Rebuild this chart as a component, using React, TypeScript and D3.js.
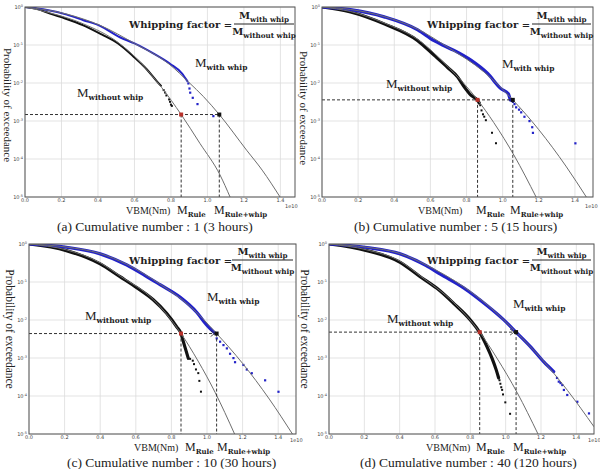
import React from 'react';
import * as d3 from 'd3';

type Pt = [number, number];

const xTicks = [0, 0.2, 0.4, 0.6, 0.8, 1.0, 1.2, 1.4];
const xTickLabels = ['0.0', '0.2', '0.4', '0.6', '0.8', '1.0', '1.2', '1.4'];
const yTickExponents = [0, -1, -2, -3, -4, -5];
const captions = [
  '(a) Cumulative number : 1 (3 hours)',
  '(b) Cumulative number : 5 (15 hours)',
  '(c) Cumulative number : 10 (30 hours)',
  '(d) Cumulative number : 40 (120 hours)',
];

// ---- Panel (a) : VBM in 1e10 Nm, probability of exceedance
const blackA: Pt[] = [[0, 1], [0.07, 0.88], [0.137, 0.67], [0.22, 0.5], [0.32, 0.33], [0.42, 0.19], [0.512, 0.108], [0.594, 0.05], [0.667, 0.023], [0.722, 0.0112], [0.745, 0.0085]];
const blackTailA: Pt[] = [[0.76, 0.0065], [0.768, 0.0056], [0.775, 0.0047], [0.79, 0.0037], [0.795, 0.0032], [0.8, 0.0027], [0.805, 0.0025]];
const blueA: Pt[] = [[0, 1], [0.1, 0.87], [0.229, 0.63], [0.32, 0.45], [0.411, 0.32], [0.52, 0.16], [0.6, 0.11], [0.703, 0.06], [0.795, 0.032], [0.86, 0.018], [0.89, 0.0112]];
const blueTailA: Pt[] = [[0.895, 0.0098], [0.901, 0.0072], [0.905, 0.0056], [0.919, 0.0041], [0.945, 0.0028], [1.032, 0.00135]];
const fitWithoutA: Pt[] = [[0, 1], [0.137, 0.7], [0.32, 0.36], [0.512, 0.115], [0.6, 0.05], [0.75, 0.0075], [0.856, 0.00148], [0.959, 0.000257], [1.069, 0.000038], [1.124, 0.00001]];
const fitWithA: Pt[] = [[0, 1], [0.229, 0.65], [0.411, 0.33], [0.6, 0.11], [0.795, 0.03], [0.9, 0.0102], [0.978, 0.0044], [1.065, 0.00148], [1.215, 0.00017], [1.3, 0.000051], [1.398, 0.00001]];
const markA = { mRule: 0.856, mRuleWhip: 1.065, p: 0.00148 };

// ---- Panel (b)
const blackB: Pt[] = [[0, 1], [0.158, 0.74], [0.344, 0.36], [0.53, 0.13], [0.62, 0.054], [0.694, 0.026], [0.75, 0.0145], [0.787, 0.0079], [0.824, 0.0048], [0.861, 0.0035], [0.87, 0.003]];
const blackTailB: Pt[] = [[0.876, 0.0026], [0.883, 0.0019], [0.891, 0.0015], [0.898, 0.0013], [0.907, 0.00105], [0.941, 0.00049], [0.963, 0.00026]];
const blueB: Pt[] = [[0, 1], [0.158, 0.85], [0.344, 0.55], [0.53, 0.25], [0.62, 0.13], [0.667, 0.1], [0.731, 0.072], [0.824, 0.04], [0.917, 0.0178], [0.99, 0.0071], [1.031, 0.0052], [1.042, 0.0036]];
const blueTailB: Pt[] = [[1.05, 0.0034], [1.056, 0.0032], [1.065, 0.0028], [1.074, 0.0023], [1.09, 0.002], [1.102, 0.0017], [1.12, 0.0013], [1.148, 0.001], [1.163, 0.00069], [1.167, 0.00049], [1.402, 0.00026]];
const fitWithoutB: Pt[] = [[0, 1], [0.158, 0.76], [0.344, 0.38], [0.53, 0.14], [0.7, 0.026], [0.861, 0.0036], [0.95, 0.00092], [1.065, 0.00012], [1.185, 0.00001]];
const fitWithB: Pt[] = [[0, 1], [0.158, 0.86], [0.344, 0.56], [0.53, 0.26], [0.7, 0.085], [0.9, 0.019], [1.056, 0.0036], [1.2, 0.00059], [1.35, 0.000065], [1.463, 0.00001]];
const markB = { mRule: 0.861, mRuleWhip: 1.056, p: 0.0036 };

// ---- Panel (c)
const blackC: Pt[] = [[0, 1], [0.21, 0.67], [0.4, 0.3], [0.511, 0.138], [0.605, 0.071], [0.698, 0.034], [0.773, 0.015], [0.83, 0.0066], [0.854, 0.0044], [0.867, 0.0027], [0.895, 0.00098]];
const blackTailC: Pt[] = [[0.905, 0.00095], [0.92, 0.00085], [0.927, 0.00069], [0.938, 0.0005], [0.951, 0.0004], [0.957, 0.00025], [0.966, 0.00013]];
const blueC: Pt[] = [[0, 1], [0.21, 0.82], [0.4, 0.55], [0.55, 0.28], [0.65, 0.15], [0.736, 0.085], [0.848, 0.04], [0.942, 0.016], [0.998, 0.0074], [1.045, 0.0045]];
const blueTailC: Pt[] = [[1.054, 0.0033], [1.073, 0.0027], [1.092, 0.0022], [1.111, 0.0018], [1.129, 0.0013], [1.148, 0.001], [1.157, 0.00078], [1.204, 0.00066], [1.223, 0.0005], [1.251, 0.0004], [1.326, 0.00026], [1.401, 0.00013]];
const fitWithoutC: Pt[] = [[0, 1], [0.21, 0.7], [0.4, 0.32], [0.511, 0.145], [0.7, 0.034], [0.854, 0.0044], [0.95, 0.00083], [1.045, 0.000126], [1.155, 0.00001]];
const fitWithC: Pt[] = [[0, 1], [0.21, 0.83], [0.4, 0.56], [0.55, 0.29], [0.736, 0.088], [0.9, 0.024], [1.054, 0.0044], [1.2, 0.00072], [1.35, 0.000083], [1.48, 0.00001]];
const markC = { mRule: 0.854, mRuleWhip: 1.054, p: 0.0044 };

// ---- Panel (d)
const blackD: Pt[] = [[0, 1], [0.214, 0.67], [0.403, 0.33], [0.516, 0.138], [0.611, 0.068], [0.705, 0.0275], [0.8, 0.01], [0.853, 0.0047], [0.894, 0.002], [0.923, 0.00098], [0.947, 0.00048], [0.96, 0.0003]];
const blackTailD: Pt[] = [[0.965, 0.00026], [0.97, 0.00021], [0.975, 0.00017], [0.98, 0.000145], [0.985, 0.00011], [0.998, 0.000068], [1.025, 0.000034]];
const blueD: Pt[] = [[0, 1], [0.214, 0.81], [0.403, 0.55], [0.55, 0.27], [0.63, 0.16], [0.762, 0.07], [0.894, 0.024], [0.98, 0.011], [1.059, 0.0048], [1.14, 0.002], [1.216, 0.00079], [1.272, 0.00044]];
const blueTailD: Pt[] = [[1.29, 0.0003], [1.3, 0.00024], [1.31, 0.00022], [1.32, 0.000195], [1.329, 0.000145], [1.348, 0.000107], [1.405, 0.000071], [1.471, 0.000035]];
const fitWithoutD: Pt[] = [[0, 1], [0.214, 0.7], [0.403, 0.35], [0.516, 0.145], [0.705, 0.029], [0.853, 0.0048], [0.95, 0.001], [1.065, 0.000123], [1.183, 0.00001]];
const fitWithD: Pt[] = [[0, 1], [0.214, 0.82], [0.403, 0.56], [0.55, 0.28], [0.762, 0.075], [0.9, 0.024], [1.059, 0.0048], [1.2, 0.00098], [1.35, 0.00014], [1.5, 0.0000155]];
const markD = { mRule: 0.853, mRuleWhip: 1.059, p: 0.0048 };

const layouts = [
  { left: 25, right: 295, top: 7, bottom: 197, xMax: 1.48, wf: [129, 28], bar: [234, 294, 24], withL: [195, 67], withoutL: [77, 97], bottomY: 214, vbm: 126, mr: 177, mrw: 214, e10: [285, 208], cap: [57, 231], yl: [8, 105], ylSize: 11, arrow: false, thin: true },
  { left: 322, right: 593, top: 7, bottom: 197, xMax: 1.5, wf: [427, 28], bar: [532, 591, 24], withL: [502, 68], withoutL: [386, 88], bottomY: 214, vbm: 418, mr: 476, mrw: 510, e10: [585, 208], cap: [354, 231], yl: [304, 108], ylSize: 11, arrow: false, thin: false },
  { left: 29, right: 296, top: 244, bottom: 434, xMax: 1.5, wf: [129, 264], bar: [232, 293, 260], withL: [207, 301], withoutL: [85, 320], bottomY: 450.5, vbm: 134, mr: 185, mrw: 217, e10: [290, 442], cap: [67, 467], yl: [10, 329], ylSize: 11.5, arrow: true, thin: false },
  { left: 329, right: 594, top: 244, bottom: 434, xMax: 1.5, wf: [427, 264], bar: [532, 591, 260], withL: [513, 308], withoutL: [387, 323], bottomY: 450.5, vbm: 426, mr: 476, mrw: 513, e10: [588, 442], cap: [360, 467], yl: [305, 329], ylSize: 11.5, arrow: true, thin: false },
];

const panelData = [
  { black: blackA, blackTail: blackTailA, blue: blueA, blueTail: blueTailA, fitWithout: fitWithoutA, fitWith: fitWithA, mark: markA },
  { black: blackB, blackTail: blackTailB, blue: blueB, blueTail: blueTailB, fitWithout: fitWithoutB, fitWith: fitWithB, mark: markB },
  { black: blackC, blackTail: blackTailC, blue: blueC, blueTail: blueTailC, fitWithout: fitWithoutC, fitWith: fitWithC, mark: markC },
  { black: blackD, blackTail: blackTailD, blue: blueD, blueTail: blueTailD, fitWithout: fitWithoutD, fitWith: fitWithD, mark: markD },
];

const SERIF = '"Liberation Serif", "Times New Roman", serif';
const BSERIF = '"DejaVu Serif", "Liberation Serif", serif';
const SANS = '"DejaVu Sans", sans-serif';
const BLUE = '#2323c8';

function MSub({ x, y, sub, size = 13, subSize = 7.5 }: any) {
  return (
    <text x={x} y={y} fontFamily={SERIF} fontSize={size} fill="#222">
      <tspan>M</tspan>
      <tspan dy={3} fontSize={subSize} fontFamily={BSERIF} fontWeight="bold">{sub}</tspan>
    </text>
  );
}

function Panel({ i }: { i: number }) {
  const L = layouts[i];
  const D = panelData[i];
  const x = d3.scaleLinear().domain([0, L.xMax]).range([L.left, L.right]);
  const y = d3.scaleLog().domain([1e-5, 1]).range([L.bottom, L.top]);
  const line = d3.line<Pt>().x((d) => x(d[0])).y((d) => y(d[1])).curve(d3.curveMonotoneX);
  const clipId = `clip${i}`;
  const ty = y(D.mark.p);
  const xr = x(D.mark.mRule);
  const xw = x(D.mark.mRuleWhip);
  const sw = L.thin ? 2 : 3.2;
  const cx = (L.bar[0] + L.bar[1]) / 2;
  return (
    <g>
      <defs>
        <clipPath id={clipId}>
          <rect x={L.left} y={L.top} width={L.right - L.left} height={L.bottom - L.top} />
        </clipPath>
      </defs>
      <rect x={L.left} y={L.top} width={L.right - L.left} height={L.bottom - L.top} fill="#fff" />
      {xTicks.map((t) => (
        <line key={'gx' + t} x1={x(t)} x2={x(t)} y1={L.top} y2={L.bottom} stroke="#dcdcdc" strokeWidth={0.8} />
      ))}
      {yTickExponents.map((e) => (
        <line key={'gy' + e} x1={L.left} x2={L.right} y1={y(Math.pow(10, e))} y2={y(Math.pow(10, e))} stroke="#dcdcdc" strokeWidth={0.8} />
      ))}
      <g clipPath={`url(#${clipId})`}>
        <path d={line(D.black) || ''} fill="none" stroke="#111" strokeWidth={sw} strokeLinecap="round" />
        {D.blackTail.map((d, k) => (
          <rect key={'bt' + k} x={x(d[0]) - 1} y={y(d[1]) - 1} width={2} height={2} fill="#111" />
        ))}
        <path d={line(D.blue) || ''} fill="none" stroke={BLUE} strokeWidth={sw} strokeLinecap="round" />
        {D.blueTail.map((d, k) => (
          <rect key={'ut' + k} x={x(d[0]) - 1} y={y(d[1]) - 1} width={2.2} height={2.2} fill={BLUE} />
        ))}
        <path d={line(D.fitWithout) || ''} fill="none" stroke="#6e6e6e" strokeWidth={1} />
        <path d={line(D.fitWith) || ''} fill="none" stroke="#6e6e6e" strokeWidth={1} />
        <line x1={L.left} x2={xw} y1={ty} y2={ty} stroke="#333" strokeWidth={1} strokeDasharray="3,2" />
        <line x1={xr} x2={xr} y1={ty} y2={L.bottom} stroke="#333" strokeWidth={1} strokeDasharray="3,2" />
        <line x1={xw} x2={xw} y1={ty} y2={L.bottom} stroke="#333" strokeWidth={1} strokeDasharray="3,2" />
        {L.arrow && (
          <polyline points={`${xw - 6},${ty - 3} ${xw - 2},${ty} ${xw - 6},${ty + 3}`} fill="none" stroke="#333" strokeWidth={0.8} />
        )}
        <rect x={xr - 2} y={ty - 2} width={4} height={4} fill="#b8312a" />
        <rect x={xw - 2} y={ty - 2} width={4} height={4} fill="#111" />
      </g>
      <rect x={L.left} y={L.top} width={L.right - L.left} height={L.bottom - L.top} fill="none" stroke="#555" strokeWidth={1} />
      {xTicks.map((t, k) => (
        <text key={'xl' + t} x={x(t)} y={L.bottom + 4.8} fontSize={5} fontFamily={SANS} fill="#444" textAnchor="middle">
          {xTickLabels[k]}
        </text>
      ))}
      {yTickExponents.map((e) => (
        <text key={'yl' + e} x={L.left - 2} y={y(Math.pow(10, e)) + 2} fontSize={5} fontFamily={SANS} fill="#444" textAnchor="end">
          10<tspan dy={-2} fontSize={3.5}>{e}</tspan>
        </text>
      ))}
      {/* whipping factor */}
      <text x={L.wf[0]} y={L.wf[1]} fontFamily={BSERIF} fontWeight="bold" fontSize={10} fill="#222">Whipping factor =</text>
      <line x1={L.bar[0]} x2={L.bar[1]} y1={L.bar[2]} y2={L.bar[2]} stroke="#222" strokeWidth={1} />
      <text x={cx} y={L.bar[2] - 5} textAnchor="middle" fontFamily={BSERIF} fontWeight="bold" fontSize={10} fill="#222">
        <tspan>M</tspan>
        <tspan dy={2.5} fontSize={7.2}>with whip</tspan>
      </text>
      <text x={cx} y={L.bar[2] + 11} textAnchor="middle" fontFamily={BSERIF} fontWeight="bold" fontSize={10} fill="#222">
        <tspan>M</tspan>
        <tspan dy={2.5} fontSize={7.2}>without whip</tspan>
      </text>
      <MSub x={L.withL[0]} y={L.withL[1]} sub="with whip" />
      <MSub x={L.withoutL[0]} y={L.withoutL[1]} sub="without whip" />
      <text x={L.vbm} y={L.bottomY} fontFamily={SERIF} fontSize={10} fill="#222">VBM(Nm)</text>
      <MSub x={L.mr} y={L.bottomY} sub="Rule" size={12} subSize={7} />
      <MSub x={L.mrw} y={L.bottomY} sub="Rule+whip" size={12} subSize={7} />
      <text x={L.e10[0]} y={L.e10[1]} fontFamily={SANS} fontSize={5} fill="#444">1e10</text>
      <text x={L.cap[0]} y={L.cap[1]} fontFamily={SERIF} fontSize={13.5} fill="#222">{captions[i]}</text>
      <text transform={`translate(${L.yl[0]},${L.yl[1]}) rotate(90)`} textAnchor="middle" dy={4} fontFamily={SERIF} fontSize={L.ylSize} fill="#222">
        Probability of exceedance
      </text>
    </g>
  );
}

export default function App() {
  return (
    <svg width={600} height={469} style={{ position: 'absolute', left: 0, top: 0, background: '#fff' }}>
      <rect x={0} y={0} width={600} height={469} fill="#fff" />
      {[0, 1, 2, 3].map((i) => (
        <Panel key={i} i={i} />
      ))}
    </svg>
  );
}
